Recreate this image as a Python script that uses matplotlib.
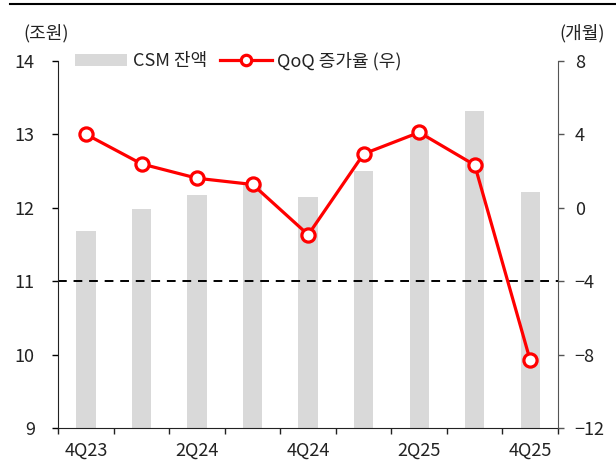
import matplotlib
matplotlib.use("Agg")
import matplotlib.pyplot as plt
from matplotlib.lines import Line2D
from matplotlib.patches import Patch
import numpy as np

plt.rcParams["font.family"] = ["Noto Sans CJK KR", "DejaVu Sans"]

# data
quarters = ["4Q23", "1Q24", "2Q24", "3Q24", "4Q24", "1Q25", "2Q25", "3Q25", "4Q25"]
csm_balance = [11.69, 11.98, 12.17, 12.33, 12.15, 12.50, 13.00, 13.32, 12.21]   # 조원
qoq_growth = [4.00, 2.39, 1.61, 1.27, -1.47, 2.94, 4.11, 2.33, -8.32]          # 개월
label_quarters = ["4Q23", "2Q24", "4Q24", "2Q25", "4Q25"]
left_ticks = [9, 10, 11, 12, 13, 14]
right_ticks = [-12, -8, -4, 0, 4, 8]

text_color = "#222222"
bar_color = "#D9D9D9"
line_color = "#FF0000"

fig = plt.figure(figsize=(6.16, 4.70), dpi=100)
ax = fig.add_axes([58.4 / 616, 1 - 428 / 470, (558 - 58.4) / 616, (428 - 61) / 470])
ax2 = ax.twinx()

x = np.arange(len(quarters))

# bars on the left axis
ax.bar(x, csm_balance, width=0.35, color=bar_color, zorder=1)
ax.axhline(11, color="black", linestyle=(0, (4.5, 3.5)), linewidth=1.4, zorder=2)
ax.set_ylim(9, 14)
ax.set_yticks(left_ticks)
ax.set_xlim(-0.5, len(quarters) - 0.5)

# line on the right axis
ax2.plot(x, qoq_growth, color=line_color, linewidth=2.3, marker="o",
         markersize=9.5, markerfacecolor="white", markeredgecolor=line_color,
         markeredgewidth=2.3, zorder=3)
ax2.set_ylim(-12, 8)
ax2.set_yticks(right_ticks)

# x axis: ticks between quarters, labels every other quarter
ax.set_xticks(np.arange(-0.5, len(quarters)), minor=False)
ax.set_xticklabels([])
label_pos = [quarters.index(q) for q in label_quarters]
ax.set_xticks(label_pos, minor=True)
ax.set_xticklabels(label_quarters, minor=True)
ax.tick_params(axis="x", which="minor", length=0, pad=10, labelsize=13, labelcolor=text_color)
ax.tick_params(axis="x", which="major", length=4, width=1, color=text_color)

ax.tick_params(axis="y", length=4, width=1, pad=13, labelsize=13, labelcolor=text_color)
ax2.tick_params(axis="y", length=4, width=1, pad=8, labelsize=13, labelcolor=text_color,
                color="#555555")

for a in (ax, ax2):
    a.spines["top"].set_visible(False)
ax.spines["right"].set_visible(False)
ax2.spines["left"].set_visible(False)
ax2.spines["bottom"].set_visible(False)
ax2.spines["right"].set_color("#555555")
ax.spines["left"].set_color(text_color)
ax.spines["bottom"].set_color(text_color)

# unit labels
fig.text(46 / 616, 1 - 33 / 470, "(조원)", ha="center", va="center", fontsize=13, color=text_color)
fig.text(582 / 616, 1 - 33 / 470, "(개월)", ha="center", va="center", fontsize=13, color=text_color)

# legend
handles = [
    Patch(facecolor=bar_color, edgecolor="none", label="CSM 잔액"),
    Line2D([], [], color=line_color, linewidth=2.3, marker="o", markersize=7.5,
           markerfacecolor="white", markeredgecolor=line_color, markeredgewidth=2.3,
           label="QoQ 증가율 (우)"),
]
leg = ax2.legend(handles=handles, loc="center left", bbox_to_anchor=(0.033, 1.0),
                 ncol=2, frameon=False, fontsize=13, handlelength=2.9, handleheight=0.6,
                 handletextpad=0.3, columnspacing=0.7, borderpad=0, borderaxespad=0)
for t in leg.get_texts():
    t.set_color(text_color)

# black rule across the top
fig.add_artist(Line2D([10 / 616, 1.0], [1 - 3.7 / 470] * 2, color="black", linewidth=1.5))

fig.savefig("out.png", dpi=100)
